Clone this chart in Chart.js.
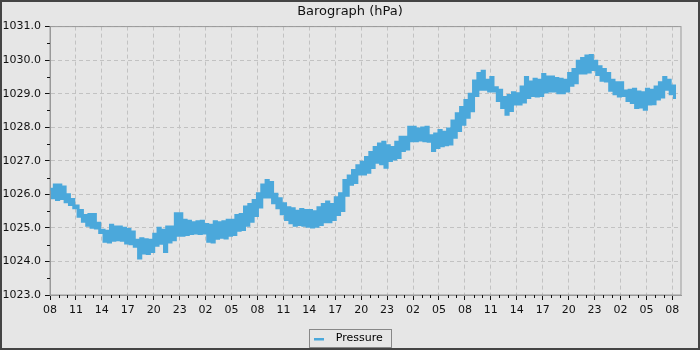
<!DOCTYPE html>
<html>
<head>
<meta charset="utf-8">
<script src="https://cdn.jsdelivr.net/npm/chart.js@4.4.1/dist/chart.umd.min.js"></script>
<style>
  html, body { margin: 0; padding: 0; background: #e6e6e6; }
  #wrap { width: 700px; height: 350px; }
</style>
</head>
<body>
<div id="wrap"><canvas id="baro" width="700" height="350"></canvas></div>
<script>
// readings every quarter hour, starting 08:00
var stepHours = 0.25;
var pressure = [
  1026.15, 1025.90, 1026.28, 1025.85,  1026.28, 1025.88, 1026.22, 1025.78,
  1025.99, 1025.70, 1025.85, 1025.60,  1025.65, 1025.35, 1025.52, 1025.20,
  1025.37, 1025.08, 1025.40, 1025.02,  1025.40, 1025.00, 1025.14, 1024.86,
  1024.93, 1024.60, 1024.90, 1024.58,  1025.08, 1024.63, 1025.03, 1024.65,
  1025.03, 1024.63, 1024.99, 1024.55,  1024.95, 1024.53, 1024.88, 1024.45,
  1024.63, 1024.10, 1024.68, 1024.25,  1024.65, 1024.24, 1024.63, 1024.30,
  1024.81, 1024.48, 1024.99, 1024.54,  1024.93, 1024.30, 1025.03, 1024.58,
  1025.03, 1024.65, 1025.42, 1024.78,  1025.42, 1024.78, 1025.23, 1024.80,
  1025.20, 1024.83, 1025.15, 1024.85,  1025.18, 1024.83, 1025.20, 1024.85,
  1025.10, 1024.60, 1025.08, 1024.58,  1025.18, 1024.69, 1025.15, 1024.72,
  1025.18, 1024.70, 1025.23, 1024.78,  1025.23, 1024.80, 1025.37, 1024.93,
  1025.40, 1024.95, 1025.62, 1025.08,  1025.70, 1025.20, 1025.82, 1025.37,
  1026.02, 1025.62, 1026.28, 1025.92,  1026.41, 1025.92, 1026.35, 1025.75,
  1026.00, 1025.60, 1025.87, 1025.42,  1025.72, 1025.25, 1025.60, 1025.15,
  1025.57, 1025.08, 1025.50, 1025.10,  1025.55, 1025.08, 1025.52, 1025.05,
  1025.52, 1025.03, 1025.48, 1025.05,  1025.60, 1025.10, 1025.70, 1025.18,
  1025.77, 1025.18, 1025.70, 1025.25,  1025.90, 1025.40, 1026.02, 1025.52,
  1026.41, 1025.97, 1026.55, 1026.30,  1026.71, 1026.35, 1026.85, 1026.61,
  1026.96, 1026.61, 1027.10, 1026.66,  1027.25, 1026.80, 1027.40, 1026.96,
  1027.50, 1026.91, 1027.55, 1026.81,  1027.45, 1027.01, 1027.40, 1027.05,
  1027.55, 1027.10, 1027.70, 1027.31,  1027.70, 1027.35, 1028.00, 1027.60,
  1028.00, 1027.60, 1027.95, 1027.62,  1027.98, 1027.60, 1028.00, 1027.58,
  1027.75, 1027.31, 1027.80, 1027.40,  1027.90, 1027.45, 1027.85, 1027.48,
  1027.95, 1027.50, 1028.19, 1027.70,  1028.40, 1027.90, 1028.59, 1028.09,
  1028.80, 1028.30, 1028.98, 1028.49,  1029.38, 1028.95, 1029.60, 1029.13,
  1029.67, 1029.13, 1029.40, 1029.08,  1029.48, 1029.08, 1029.18, 1028.80,
  1029.10, 1028.59, 1028.89, 1028.39,  1028.95, 1028.50, 1029.03, 1028.69,
  1029.00, 1028.69, 1029.20, 1028.75,  1029.48, 1028.89, 1029.35, 1028.95,
  1029.43, 1028.93, 1029.40, 1028.95,  1029.57, 1029.05, 1029.50, 1029.08,
  1029.50, 1029.08, 1029.45, 1029.03,  1029.43, 1029.03, 1029.40, 1029.08,
  1029.60, 1029.25, 1029.72, 1029.33,  1029.97, 1029.62, 1030.05, 1029.62,
  1030.12, 1029.65, 1030.14, 1029.72,  1029.97, 1029.57, 1029.80, 1029.40,
  1029.72, 1029.38, 1029.60, 1029.10,  1029.40, 1029.00, 1029.33, 1028.93,
  1029.33, 1028.95, 1029.08, 1028.80,  1029.10, 1028.74, 1029.13, 1028.59,
  1029.05, 1028.60, 1029.03, 1028.54,  1029.13, 1028.69, 1029.10, 1028.70,
  1029.20, 1028.84, 1029.33, 1028.90,  1029.48, 1029.13, 1029.40, 1029.00,
  1029.23, 1028.84
];

// x tick labels, one every 3 hours
var hourLabels = ['08', '11', '14', '17', '20', '23', '02', '05',
                  '08', '11', '14', '17', '20', '23', '02', '05',
                  '08', '11', '14', '17', '20', '23', '02', '05', '08'];
var yMin = 1023, yMax = 1031;
var hoursShown = 73;

var lineColor = '#4ba8db';

Chart.defaults.font.family = 'DejaVu Sans';
Chart.defaults.font.size = 11;
Chart.defaults.color = '#111';

var points = pressure.map(function (p, i) {
  return { x: i * stepHours, y: p };
});

var framePlugin = {
  id: 'frame',
  beforeDraw: function (chart) {
    var c = chart.ctx;
    c.save();
    c.fillStyle = '#e6e6e6';
    c.fillRect(0, 0, chart.width, chart.height);
    c.restore();
  },
  afterDraw: function (chart) {
    var c = chart.ctx, a = chart.chartArea;
    var xs = chart.scales.x, ys = chart.scales.y;
    c.save();
    // plot box
    c.strokeStyle = '#999';
    c.lineWidth = 1;
    c.strokeRect(a.left, a.top, a.right - a.left, a.bottom - a.top);
    // minor ticks
    c.strokeStyle = '#111';
    c.beginPath();
    for (var h = 1; h < hoursShown; h++) {
      if (h % 3 === 0) continue;
      var px = Math.round(xs.getPixelForValue(h)) + 0.5;
      c.moveTo(px, a.bottom);
      c.lineTo(px, a.bottom + 3);
    }
    for (var v = yMin + 0.5; v < yMax; v += 1) {
      var py = Math.round(ys.getPixelForValue(v)) + 0.5;
      c.moveTo(a.left - 3, py);
      c.lineTo(a.left, py);
    }
    c.stroke();
    // legend marker and box
    var hb = chart.legend.legendHitBoxes[0];
    if (hb) {
      var my = Math.round(hb.top + hb.height / 2);
      c.fillStyle = lineColor;
      c.fillRect(Math.round(hb.left) - 3, my - 1, 10, 2.5);
      c.strokeStyle = '#888';
      c.strokeRect(Math.round(hb.left - 8) + 0.5, Math.round(hb.top - 4) + 0.5,
                   Math.round(hb.width + 17), Math.round(hb.height + 7));
    }
    // outer border
    c.strokeStyle = '#444';
    c.lineWidth = 2;
    c.strokeRect(1, 1, chart.width - 2, chart.height - 2);
    c.restore();
  }
};

new Chart(document.getElementById('baro'), {
  type: 'line',
  data: {
    datasets: [{
      label: 'Pressure',
      data: points,
      borderColor: lineColor,
      backgroundColor: lineColor,
      borderWidth: 3,
      pointRadius: 0,
      stepped: true
    }]
  },
  options: {
    responsive: false,
    animation: false,
    layout: { padding: { left: 2, right: 2, top: 2, bottom: -4 } },
    plugins: {
      title: {
        display: true,
        text: 'Barograph (hPa)',
        color: '#111',
        font: { size: 13, weight: 'normal' },
        padding: { top: 2, bottom: 7 }
      },
      legend: {
        position: 'bottom',
        labels: {
          boxWidth: 13,
          boxHeight: 3,
          padding: 3,
          color: '#111',
          generateLabels: function (chart) {
            return [{
              text: 'Pressure',
              fillStyle: 'rgba(0,0,0,0)',
              strokeStyle: 'rgba(0,0,0,0)',
              lineWidth: 0,
              hidden: false,
              datasetIndex: 0
            }];
          }
        }
      },
      tooltip: { enabled: false }
    },
    scales: {
      x: {
        type: 'linear',
        min: 0,
        max: hoursShown,
        afterFit: function (s) { s.height = 35; },
        ticks: {
          stepSize: 3,
          includeBounds: false,
          autoSkip: false,
          maxRotation: 0,
          padding: 4,
          color: '#111',
          callback: function (v) { return hourLabels[v / 3]; }
        },
        grid: {
          color: '#c2c2c2',
          tickColor: '#111',
          tickLength: 5,
          tickBorderDash: []
        },
        border: { color: '#999', dash: [4, 3] }
      },
      y: {
        min: yMin,
        max: yMax,
        afterFit: function (s) { s.width = 48; },
        ticks: {
          stepSize: 1,
          padding: 4,
          color: '#111',
          callback: function (v) { return v.toFixed(1); }
        },
        grid: {
          color: '#c2c2c2',
          tickColor: '#111',
          tickLength: 5,
          tickBorderDash: []
        },
        border: { color: '#999', dash: [4, 3] }
      },
      // empty axis that only keeps the right margin
      yRight: {
        position: 'right',
        afterFit: function (s) { s.width = 17; },
        ticks: { display: false },
        grid: { display: false },
        border: { display: false }
      }
    }
  },
  plugins: [framePlugin]
});
</script>
</body>
</html>
